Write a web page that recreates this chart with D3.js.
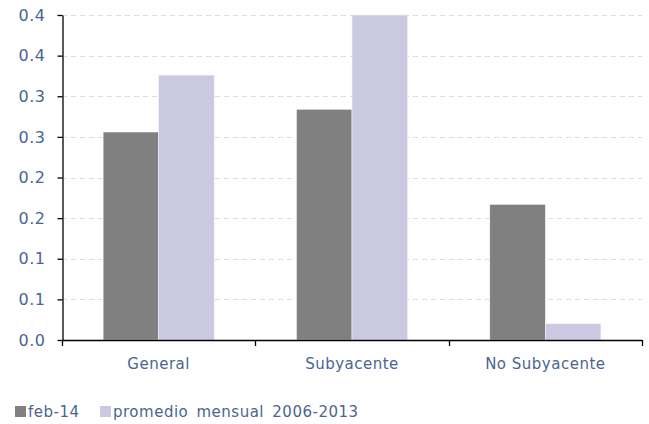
<!DOCTYPE html>
<html>
<head>
<meta charset="utf-8">
<script src="https://cdn.jsdelivr.net/npm/d3@7"></script>
<style>
  body { margin: 0; background: #fff; }
  text { font-family: "DejaVu Sans", sans-serif; fill: #4a6591; letter-spacing: 0.5px; }
</style>
</head>
<body>
<div id="chart"></div>
<script>
// data
let categories = ["General", "Subyacente", "No Subyacente"];
let series = ["feb-14", "promedio mensual 2006-2013"];
let feb14 = [0.256, 0.284, 0.167];
let promedio = [0.326, 0.400, 0.020];
let yTicks = [0, 0.05, 0.10, 0.15, 0.20, 0.25, 0.30, 0.35, 0.40];
let yTickLabels = ["0.0", "0.1", "0.1", "0.2", "0.2", "0.3", "0.3", "0.4", "0.4"];
let colors = ["#808080", "#cbc9e2"];

const width = 649;
const height = 424;
const margin = {top: 15, bottom: 84, left: 62, right: 7};

const svg = d3.select("#chart")
    .append("svg")
    .attr("width", width)
    .attr("height", height);

const x0 = d3.scaleBand()
    .domain(categories)
    .range([margin.left, width - margin.right])
    .padding(0);

const x1 = d3.scaleBand()
    .domain(series)
    .range([0, x0.bandwidth()])
    .paddingInner(0)
    .paddingOuter(0.74);

const y = d3.scaleLinear()
    .domain([0, 0.4])
    .range([height - margin.bottom, margin.top]);

// grid
svg.append("g")
    .selectAll("line")
    .data(yTicks.slice(1))
    .join("line")
        .attr("x1", margin.left)
        .attr("x2", width - margin.right)
        .attr("y1", d => Math.round(y(d)) + 0.5)
        .attr("y2", d => Math.round(y(d)) + 0.5)
        .attr("stroke", "#d3def3")
        .attr("stroke-width", 1.2)
        .attr("stroke-dasharray", "5,4");

// bars
let rows = categories.map((c, i) => ({cat: c, vals: [feb14[i], promedio[i]]}));
svg.append("g")
    .selectAll("g")
    .data(rows)
    .join("g")
        .attr("transform", d => `translate(${x0(d.cat)},0)`)
    .selectAll("rect")
    .data(d => d.vals.map((v, j) => ({s: series[j], v: v, j: j})))
    .join("rect")
        .attr("x", d => x1(d.s))
        .attr("y", d => y(d.v))
        .attr("width", x1.bandwidth())
        .attr("height", d => y(0) - y(d.v))
        .attr("fill", d => colors[d.j])
        .attr("stroke", "#f4f4f8")
        .attr("stroke-width", 0.6);

// y axis
function yAxis(g) {
    g.attr("transform", `translate(${margin.left + 0.5},0)`)
        .call(d3.axisLeft(y).tickValues(yTicks)
            .tickFormat((d, i) => yTickLabels[i])
            .tickSize(5).tickPadding(12).tickSizeOuter(0))
        .call(g => g.selectAll("line, path").attr("stroke", "#000").attr("stroke-width", 1.3))
        .call(g => g.selectAll("text").attr("font-size", "16px").attr("fill", "#4a6591"));
}

// x axis
function xAxis(g) {
    let bounds = categories.map(c => x0(c)).concat([x0.range()[1]]);
    g.append("line")
        .attr("x1", margin.left)
        .attr("x2", width - margin.right)
        .attr("y1", y(0) + 0.5)
        .attr("y2", y(0) + 0.5)
        .attr("stroke", "#000")
        .attr("stroke-width", 1.3);
    g.selectAll("line.tk")
        .data(bounds)
        .join("line")
            .attr("class", "tk")
            .attr("x1", d => Math.round(d) + 0.5)
            .attr("x2", d => Math.round(d) + 0.5)
            .attr("y1", y(0))
            .attr("y2", y(0) + 6)
            .attr("stroke", "#000")
            .attr("stroke-width", 1.3);
    g.selectAll("text")
        .data(categories)
        .join("text")
            .attr("x", d => x0(d) + x0.bandwidth() / 2)
            .attr("y", y(0) + 29)
            .attr("text-anchor", "middle")
            .attr("font-size", "15px")
            .text(d => d);
}

svg.append("g").call(xAxis);
svg.append("g").call(yAxis);

// legend
const legend = svg.append("g").attr("transform", "translate(15,406)");
let lx = [0, 85];
series.forEach((s, i) => {
    let item = legend.append("g").attr("transform", `translate(${lx[i]},0)`);
    item.append("rect")
        .attr("width", 11).attr("height", 11)
        .attr("fill", colors[i]);
    item.append("text")
        .attr("x", 13)
        .attr("y", 11)
        .attr("font-size", "15px")
        .attr("letter-spacing", "0.9px")
        .attr("word-spacing", "3px")
        .text(s);
});
</script>
</body>
</html>
